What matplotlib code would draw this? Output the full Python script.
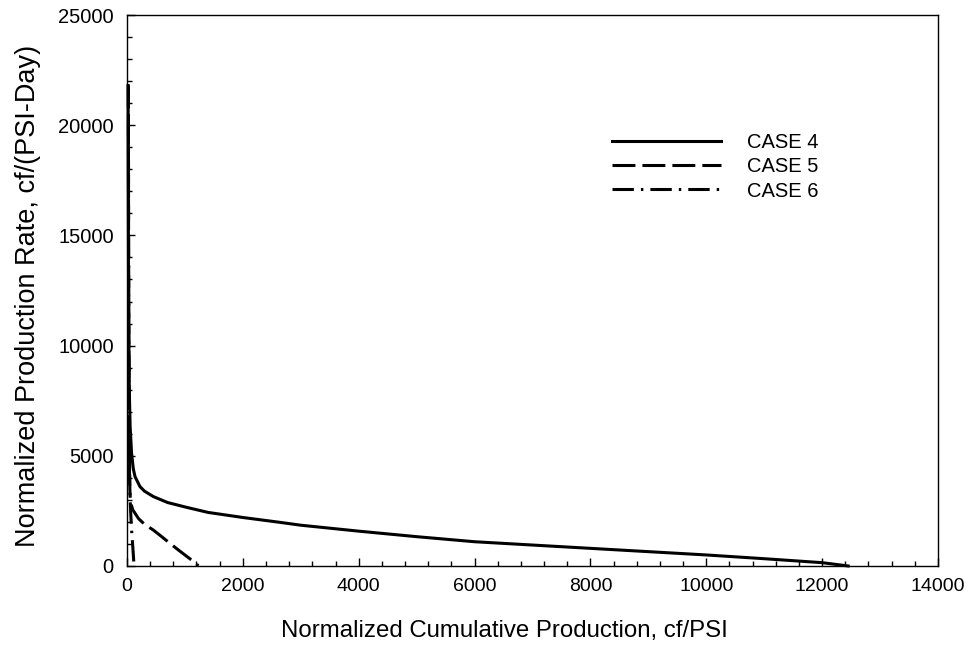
import matplotlib
matplotlib.use('Agg')
import matplotlib.pyplot as plt
from matplotlib.ticker import MultipleLocator

plt.rcParams['font.family'] = ['Liberation Sans', 'DejaVu Sans']

# normalized cumulative production (cf/PSI) vs normalized rate (cf/(PSI-Day))
case4_x = [20, 22, 25, 30, 40, 55, 80, 110, 140, 225, 300, 455, 700, 1030, 1400, 2000, 2640,
           3000, 4000, 5000, 6000, 7000, 8000, 9000, 10000, 11000, 12000, 12450]
case4_y = [21800, 18000, 15000, 11000, 8000, 6300, 5100, 4400, 4050, 3600, 3400, 3150, 2880, 2660, 2430, 2200, 1980,
           1850, 1580, 1330, 1100, 950, 800, 650, 500, 330, 150, 0]

case5_x = [25, 28, 32, 40, 50, 60, 100, 200, 300, 455, 600, 740, 900, 1050, 1200, 1230]
case5_y = [21800, 15000, 10000, 6000, 3500, 2900, 2550, 2150, 1900, 1630, 1330, 1030, 700, 400, 100, 0]

case6_x = [25, 28, 32, 38, 45, 55, 65, 80, 100, 115, 122]
case6_y = [21800, 15000, 10000, 6000, 4000, 3000, 2400, 1630, 900, 300, 0]

labels = ['CASE 4', 'CASE 5', 'CASE 6']

fig = plt.figure(figsize=(9.64, 6.54), dpi=100)
ax = fig.add_axes([0.1317, 0.1346, 0.8413, 0.8424])

lw = 2.2
ax.plot(case4_x, case4_y, color='black', lw=lw, linestyle='-', label=labels[0], clip_on=False)
ax.plot(case5_x, case5_y, color='black', lw=lw, linestyle=(0, (7.5, 2.3)), label=labels[1], clip_on=False)
ax.plot(case6_x, case6_y, color='black', lw=lw, linestyle=(0, (7.0, 2.3, 0.8, 2.3)), label=labels[2], clip_on=False)

ax.set_xlim(0, 14000)
ax.set_ylim(0, 25000)
ax.xaxis.set_major_locator(MultipleLocator(2000))
ax.xaxis.set_minor_locator(MultipleLocator(400))
ax.yaxis.set_major_locator(MultipleLocator(5000))
ax.yaxis.set_minor_locator(MultipleLocator(1000))

ax.tick_params(which='both', direction='in', top=False, right=False, width=1)
ax.tick_params(which='major', length=6)
ax.tick_params(which='minor', length=3.5)
ax.tick_params(axis='x', pad=9, labelsize=14)
ax.tick_params(axis='y', pad=9.5, labelsize=14.5)
for s in ax.spines.values():
    s.set_linewidth(1)

ax.set_xlabel('Normalized Cumulative Production, cf/PSI', fontsize=17.3)
ax.set_ylabel('Normalized Production Rate, cf/(PSI-Day)', fontsize=19.5)
ax.xaxis.set_label_coords(0.465, -0.098)
ax.yaxis.set_label_coords(-0.106, 0.49)

ax.legend(loc='upper left', bbox_to_anchor=(0.576, 0.818), frameon=False, fontsize=14.5,
          handlelength=5.4, handletextpad=1.3, labelspacing=0.25,
          borderaxespad=0.5, borderpad=0.4)

fig.savefig('out.png', dpi=100)
